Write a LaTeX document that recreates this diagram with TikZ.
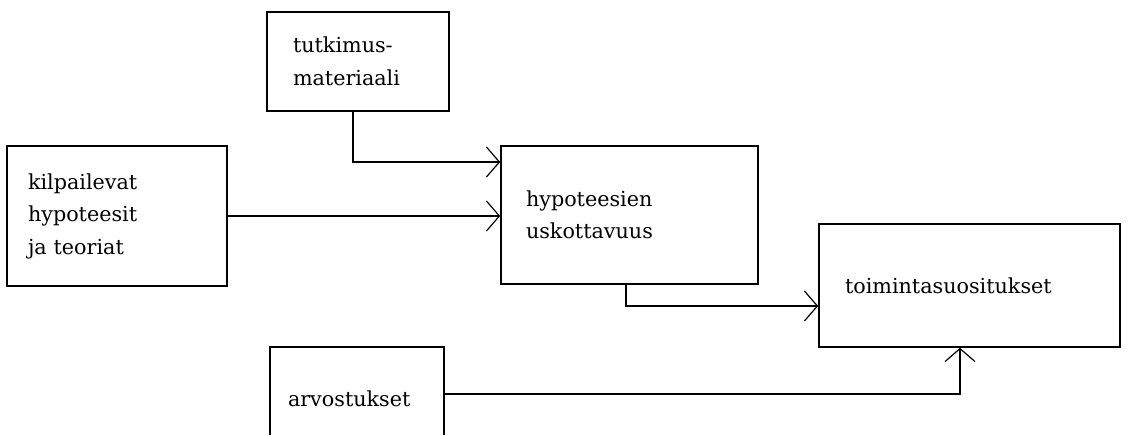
\documentclass[tikz,border=0pt]{standalone}
\usepackage{fontspec}
\setmainfont{DejaVu Serif}
\usetikzlibrary{arrows.meta}
\begin{document}
\begin{tikzpicture}[x=1pt,y=-1pt,
  box/.style={draw, line width=1.6pt, align=left, inner ysep=0pt, anchor=center,
    font=\fontsize{20.7}{32.5}\selectfont},
  arr/.style={line width=1.5pt, -{Straight Barb[length=13pt,width=30pt,line width=1.2pt]}}]
\useasboundingbox (0,0) rectangle (1134,435);
\clip (0,0) rectangle (1134,435);
\node[box, minimum height=99pt, text width=130pt, inner xsep=26pt] (tut) at (358,61.5) {tutkimus-\\materiaali};
\node[box, minimum height=140pt, text width=178pt, inner xsep=21pt] (kil) at (117,216) {kilpailevat\\hypoteesit\\ja teoriat};
\node[box, minimum height=138pt, text width=207pt, inner xsep=25pt] (hyp) at (629.5,215) {hypoteesien\\uskottavuus};
\node[box, minimum height=123pt, text width=249pt, inner xsep=26pt] (toi) at (969.5,285.5) {toimintasuositukset};
\node[box, minimum height=103pt, text width=138pt, inner xsep=18pt] (arv) at (357,398.5) {arvostukset};
\draw[arr] ([xshift=-5pt]tut.south) |- ([yshift=53pt]hyp.west);
\draw[arr] (kil.east) -- (kil.east -| hyp.west);
\draw[arr] ([xshift=-3.5pt]hyp.south) |- ([yshift=-20.5pt]toi.west);
\draw[arr] ([yshift=4.5pt]arv.east) -| ([xshift=-9.5pt]toi.south);
\end{tikzpicture}
\end{document}
